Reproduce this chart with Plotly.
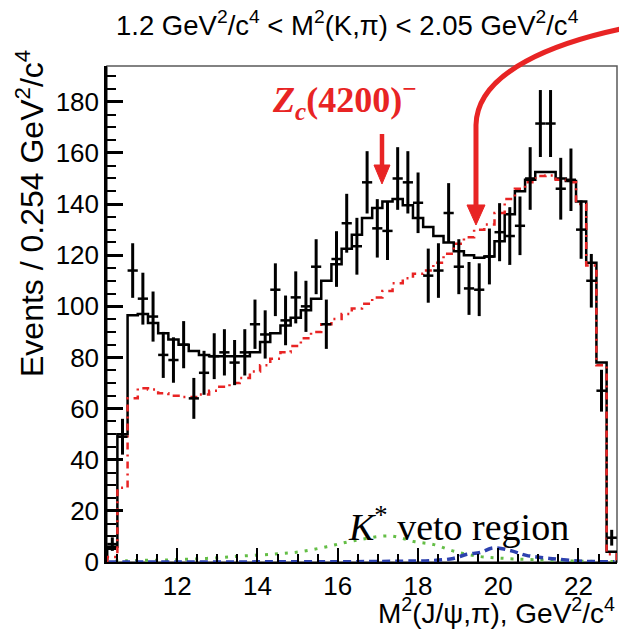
import numpy as np
import plotly.graph_objects as go

# ---------------- data ----------------
bin_start = 10.255
bin_width = 0.254
n_bins = 50

data_counts = [7, 49, 114, 103, 96, 81, 79, 85, 64, 74,
               80.5, 82, 78, 82, 93, 89, 106.5, 94.5, 103.5, 100,
               115.5, 93, 118.5, 132.5, 123.5, 148.5, 130.5, 129.5, 150, 148.5,
               140.5, 112, 114, 136.5, 115.5, 107, 106.5, 119.5, 129, 127.5,
               131.5, 150, 171.5, 171.5, 146, 149.5, 130, 110, 67, 9.5]

fit_total = [6, 50, 96.5, 97, 93.5, 89.5, 87, 85, 82.5, 81,
             80.5, 80.5, 80.5, 80.5, 82, 86, 89.5, 92.5, 95.5, 98.5,
             103, 110, 116.5, 122.5, 128, 134.5, 138.5, 141, 142, 139.5,
             134.5, 131, 127.5, 125, 121.5, 120, 119, 119.5, 125.5, 136,
             145, 149.5, 152.5, 152.5, 150, 149, 141, 117, 78, 4]

fit_no_zc = [2, 29, 64, 68, 67.5, 66, 65, 64.5, 64.5, 65.5,
             67, 68.5, 70, 72, 74.5, 77, 79.5, 82, 84.5, 87.5,
             90, 93, 95, 97, 99.2, 101, 103.5, 106, 109, 111,
             112.7, 114, 117, 120.6, 124.5, 127, 130, 132, 136.5, 142,
             146, 148.5, 151, 151.2, 149.5, 148.5, 140, 116, 77, 3]

green_x = [10.45, 10.74, 11.74, 12.73, 13.56, 14.4, 15.06, 15.73, 16.4, 17.3,
           17.9, 18.4, 18.9, 19.47, 20.05, 20.87, 22.1, 22.9]
green_y = [0.3, 0.5, 0.8, 1.4, 2.3, 3.1, 4.0, 6.0, 8.3, 10.2,
           8.0, 6.8, 4.2, 2.3, 1.5, 0.9, 0.3, 0.2]

blue_x = [10.3, 12.0, 14.0, 16.0, 17.55, 18.38, 18.88, 19.22, 19.55, 19.88,
          20.3, 20.7, 21.28, 22.1, 22.9]
blue_y = [0.0, 0.0, 0.05, 0.1, 0.3, 0.6, 1.4, 3.0, 3.7, 5.5,
          4.5, 2.6, 1.4, 0.3, 0.1]

x_tick_vals = [12, 14, 16, 18, 20, 22]
y_tick_vals = [0, 20, 40, 60, 80, 100, 120, 140, 160, 180]

# ---------------- derived ----------------
edges = bin_start + bin_width * np.arange(n_bins + 1)
centers = edges[:-1] + bin_width / 2


def step_xy(vals):
    xs = [edges[0]] + list(edges[:-1]) + [edges[-1], edges[-1]]
    ys = [0] + list(vals) + [vals[-1], 0]
    return xs, ys


RED = "rgb(232,36,36)"
BLACK = "black"
GREEN = "rgb(100,190,70)"
BLUE = "rgb(45,65,175)"

fig = go.Figure()

fig.add_trace(go.Scatter(x=green_x, y=green_y, mode="lines", line_shape="spline",
                         line=dict(color=GREEN, width=3, dash="3px,7px"), hoverinfo="skip"))
fig.add_trace(go.Scatter(x=blue_x, y=blue_y, mode="lines", line_shape="spline",
                         line=dict(color=BLUE, width=3.5, dash="8px,5px"), hoverinfo="skip"))

hx, hy = step_xy(fit_total)
fig.add_trace(go.Scatter(x=hx, y=hy, mode="lines", line_shape="hv",
                         line=dict(color=BLACK, width=2.5), hoverinfo="skip"))
rx, ry = step_xy(fit_no_zc)
fig.add_trace(go.Scatter(x=rx, y=ry, mode="lines", line_shape="hv",
                         line=dict(color=RED, width=2.5, dash="7px,5px,2px,5px"), hoverinfo="skip"))

fig.add_trace(go.Scatter(
    x=centers, y=data_counts, mode="markers",
    marker=dict(size=1, color=BLACK),
    error_x=dict(type="constant", value=bin_width / 2, width=0, thickness=2.5, color=BLACK),
    error_y=dict(type="data", array=np.sqrt(data_counts), width=0, thickness=3, color=BLACK),
    hoverinfo="skip"))

# ---------------- layout ----------------
L, R, T, B = 107, 2, 66, 69
W, H = 619, 631
PW, PH = W - L - R, H - T - B


def px(x, y):
    return (x - L) / PW, (H - B - y) / PH


def pt(p):
    return "%.4f,%.4f" % px(*p)


def poly(points, close=False):
    s = "M" + pt(points[0]) + "".join(" L" + pt(p) for p in points[1:])
    return s + (" Z" if close else "")


curve = ("M" + pt((621, 29)) + " C" + pt((560, 42)) + " " + pt((477, 70)) + " " + pt((476, 125))
         + " L" + pt((476, 209)))

shapes = [
    dict(type="rect", xref="paper", yref="paper", x0=0, x1=1, y0=0, y1=1,
         line=dict(color="rgb(90,90,90)", width=1.5), layer="below"),
    # straight arrow
    dict(type="path", xref="paper", yref="paper",
         path=poly([(382, 134), (382, 170)]),
         line=dict(color=RED, width=4.5)),
    dict(type="path", xref="paper", yref="paper",
         path=poly([(382, 184), (374, 165), (390, 165)], close=True),
         line=dict(color=RED, width=1), fillcolor=RED),
    # curved arrow
    dict(type="path", xref="paper", yref="paper", path=curve,
         line=dict(color=RED, width=5)),
    dict(type="path", xref="paper", yref="paper",
         path=poly([(476, 225), (467, 205), (485, 205)], close=True),
         line=dict(color=RED, width=1), fillcolor=RED),
]

annotations = []


def ann(text, xpx, ypx, size, family, color="black", xanchor="center", yanchor="middle", angle=0):
    x, y = px(xpx, ypx)
    annotations.append(dict(text=text, x=x, y=y, xref="paper", yref="paper", showarrow=False,
                            xanchor=xanchor, yanchor=yanchor, textangle=angle,
                            font=dict(size=size, family=family, color=color)))


SANS = "Liberation Sans, Arial, sans-serif"
SERIF = "Liberation Serif, Times New Roman, serif"

ann("1.2 GeV<sup>2</sup>/c<sup>4</sup> &lt; M<sup>2</sup>(K,π) &lt; 2.05 GeV<sup>2</sup>/c<sup>4</sup>",
    347, 24, 27.5, SANS)
ann("M<sup>2</sup>(J/ψ,π), GeV<sup>2</sup>/c<sup>4</sup>", 617, 631, 28, SANS,
    xanchor="right", yanchor="bottom")
ann("Events / 0.254 GeV<sup>2</sup>/c<sup>4</sup>", 30, 214, 32, SANS, angle=-90)
ann("<b><i>Z</i><sub><i>c</i></sub>(4200)<sup>−</sup></b>", 270, 100, 36, SERIF, color=RED,
    xanchor="left")
ann("<i>K</i><sup>*</sup> veto region", 346, 524, 38, SERIF, xanchor="left")

fig.update_layout(
    width=W, height=H,
    margin=dict(l=L, r=R, t=T, b=B),
    paper_bgcolor="white", plot_bgcolor="white",
    showlegend=False,
    shapes=shapes, annotations=annotations,
    font=dict(family=SANS, size=26, color="black"),
)

fig.update_xaxes(range=[10.25, 22.96], tickvals=x_tick_vals, ticks="inside", ticklen=14,
                 tickwidth=2, tickcolor="black", showline=True, linecolor="black", linewidth=2,
                 showgrid=False, zeroline=False, tickfont=dict(size=26, family=SANS),
                 minor=dict(dtick=0.5, tick0=0, ticks="inside", ticklen=8, tickwidth=1.5,
                            tickcolor="black", showgrid=False))
fig.update_yaxes(range=[0, 194], tickvals=y_tick_vals, ticks="inside", ticklen=16,
                 tickwidth=2.5, tickcolor="black", showline=True, linecolor="black", linewidth=2.5,
                 showgrid=False, zeroline=False, tickfont=dict(size=26, family=SANS),
                 minor=dict(dtick=5, tick0=0, ticks="inside", ticklen=9, tickwidth=2,
                            tickcolor="black", showgrid=False))

fig.write_html("out.html")
